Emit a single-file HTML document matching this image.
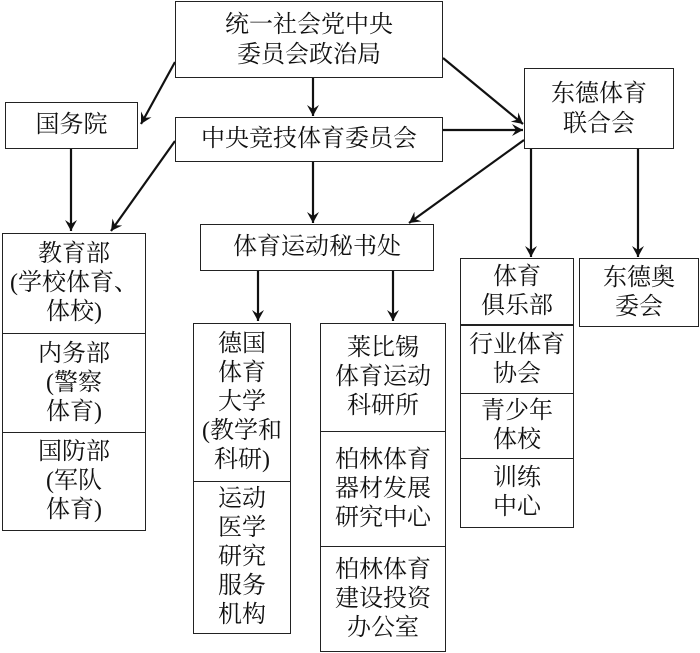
<!DOCTYPE html>
<html><head><meta charset="utf-8"><style>
body{margin:0;width:700px;height:653px;background:#fff;position:relative;overflow:hidden;font-family:"Liberation Serif","Noto Serif CJK SC",serif;font-size:24px;color:#111}
.b{position:absolute;border:1.6px solid #222;box-sizing:border-box;display:flex;align-items:center;justify-content:center;text-align:center;line-height:29px;background:#fff;white-space:nowrap}
svg{position:absolute;left:0;top:0}
</style></head><body>
<svg width="700" height="653">
<defs><marker id="a" markerWidth="12" markerHeight="12" refX="11" refY="6" orient="auto" markerUnits="userSpaceOnUse"><path d="M0,0 L11,6 L0,12 L4,6 Z" fill="#111"/></marker></defs>
<g stroke="#111" stroke-width="2.2" fill="none" marker-end="url(#a)">
<line x1="175" y1="62" x2="141" y2="124"/>
<line x1="313" y1="77" x2="313" y2="116"/>
<line x1="443" y1="58" x2="523" y2="124"/>
<line x1="443" y1="130" x2="523" y2="130"/>
<line x1="175" y1="141" x2="111" y2="231"/>
<line x1="71" y1="148" x2="71" y2="231"/>
<line x1="313" y1="162" x2="313" y2="223"/>
<line x1="524" y1="140" x2="409" y2="223"/>
<line x1="531" y1="148" x2="531" y2="257"/>
<line x1="638" y1="148" x2="638" y2="257"/>
<line x1="258" y1="271" x2="258" y2="321"/>
<line x1="393" y1="271" x2="393" y2="321"/>
</g></svg>
<div class="b" style="left:175px;top:1px;width:268px;height:77px;line-height:30px">统一社会党中央<br>委员会政治局</div>
<div class="b" style="left:5px;top:102px;width:133px;height:47px">国务院</div>
<div class="b" style="left:175px;top:117px;width:268px;height:45px">中央竞技体育委员会</div>
<div class="b" style="left:524px;top:68px;width:150px;height:81px;line-height:30px">东德体育<br>联合会</div>
<div class="b" style="left:200px;top:224px;width:234px;height:47px">体育运动秘书处</div>
<div class="b" style="left:2px;top:233px;width:144px;height:101px">教育部<br>(学校体育、<br>体校)</div>
<div class="b" style="left:2px;top:333px;width:144px;height:100px">内务部<br>(警察<br>体育)</div>
<div class="b" style="left:2px;top:432px;width:144px;height:99px">国防部<br>(军队<br>体育)</div>
<div class="b" style="left:193px;top:323px;width:98px;height:159px">德国<br>体育<br>大学<br>(教学和<br>科研)</div>
<div class="b" style="left:193px;top:481px;width:98px;height:153px">运动<br>医学<br>研究<br>服务<br>机构</div>
<div class="b" style="left:320px;top:323px;width:126px;height:109px">莱比锡<br>体育运动<br>科研所</div>
<div class="b" style="left:320px;top:431px;width:126px;height:116px">柏林体育<br>器材发展<br>研究中心</div>
<div class="b" style="left:320px;top:546px;width:126px;height:106px">柏林体育<br>建设投资<br>办公室</div>
<div class="b" style="left:460px;top:258px;width:114px;height:67px">体育<br>俱乐部</div>
<div class="b" style="left:460px;top:325px;width:114px;height:69px">行业体育<br>协会</div>
<div class="b" style="left:460px;top:393px;width:114px;height:66px">青少年<br>体校</div>
<div class="b" style="left:460px;top:458px;width:114px;height:70px">训练<br>中心</div>
<div class="b" style="left:579px;top:258px;width:120px;height:69px">东德奥<br>委会</div>
</body></html>
